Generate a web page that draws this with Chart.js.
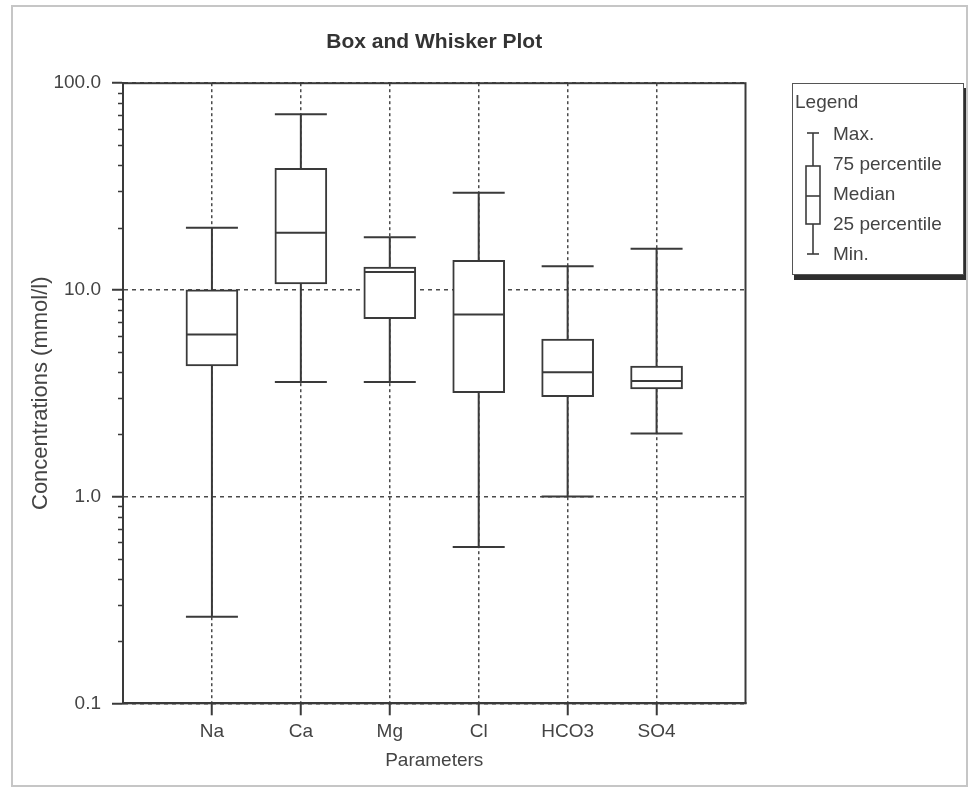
<!DOCTYPE html>
<html>
<head>
<meta charset="utf-8">
<title>Box and Whisker Plot</title>
<script src="https://cdn.jsdelivr.net/npm/chart.js@4"></script>
<style>
  html, body { margin: 0; padding: 0; background: #fff; }
  #wrap { position: relative; width: 971px; height: 788px; overflow: hidden;
          font-family: "Liberation Sans", Arial, sans-serif; }
  #frame { position: absolute; left: 11px; top: 5px; width: 957px; height: 782px;
           box-sizing: border-box; border: 2px solid #c6c6c6; }
  #c { position: absolute; left: 0; top: 0; }
  #legend { position: absolute; left: 792px; top: 83px; width: 172px; height: 192px;
            box-sizing: border-box; border: 1.5px solid #555; background: #fff;
            box-shadow: 2px 5px 0 #2e2e2e; color: #444; font-size: 19px; }
  #legend .t { position: absolute; left: 2px; line-height: 22px; white-space: nowrap; }
  #legend svg { position: absolute; left: 0; top: 0; }
</style>
</head>
<body>
<div id="wrap">
  <div id="frame"></div>
  <canvas id="c" width="971" height="788"></canvas>
  <div id="legend">
    <svg width="40" height="190" viewBox="0 0 40 190">
      <g stroke="#3c3c3c" stroke-width="1.6" fill="#fff">
        <line x1="20" y1="49" x2="20" y2="82"/>
        <line x1="20" y1="140" x2="20" y2="170"/>
        <line x1="14" y1="49" x2="26" y2="49"/>
        <line x1="14" y1="170" x2="26" y2="170"/>
        <rect x="13" y="82" width="14" height="58"/>
        <line x1="13" y1="112" x2="27" y2="112"/>
      </g>
    </svg>
    <div class="t" style="top:7px;">Legend</div>
    <div class="t" style="left:40px;top:39px;">Max.</div>
    <div class="t" style="left:40px;top:69px;">75 percentile</div>
    <div class="t" style="left:40px;top:99px;">Median</div>
    <div class="t" style="left:40px;top:129px;">25 percentile</div>
    <div class="t" style="left:40px;top:159px;">Min.</div>
  </div>
</div>
<script>
// Parameters and their five-number summaries (mmol/l)
const categories   = ['Na', 'Ca', 'Mg', 'Cl', 'HCO3', 'SO4'];
const minValues    = [0.262, 3.58, 3.58, 0.57, 1.0, 2.02];
const q1Values     = [4.29, 10.7, 7.25, 3.18, 3.04, 3.32];
const medianValues = [6.09, 18.9, 12.2, 7.61, 4.0, 3.62];
const q3Values     = [10.0, 38.7, 12.9, 13.9, 5.78, 4.28];
const maxValues    = [20.0, 70.8, 18.0, 29.5, 13.0, 15.8];

// Axis ticks
const yTickValues = [0.1, 1, 10, 100];
const minorTickFactors = [2, 3, 4, 5, 6, 7, 8, 9];

const FONT = '"Liberation Sans", Arial, sans-serif';
const INK = '#3a3a3a';
const TEXT = '#444444';
const GRID = '#4a4a4a';

Chart.defaults.font.family = FONT;

// Whiskers, caps, medians, minor log ticks and the plot frame
const boxWhiskers = {
  id: 'boxWhiskers',
  afterDatasetsDraw(chart) {
    const { ctx, scales: { x, y } } = chart;
    const meta = chart.getDatasetMeta(0);
    ctx.save();
    ctx.strokeStyle = INK;
    ctx.lineWidth = 2;
    categories.forEach((name, i) => {
      const bar = meta.data[i];
      const cx = x.getPixelForValue(i);
      const half = bar.width / 2;
      const yMin = y.getPixelForValue(minValues[i]);
      const yQ1 = y.getPixelForValue(q1Values[i]);
      const yMed = y.getPixelForValue(medianValues[i]);
      const yQ3 = y.getPixelForValue(q3Values[i]);
      const yMax = y.getPixelForValue(maxValues[i]);
      ctx.beginPath();
      ctx.moveTo(cx, yQ3); ctx.lineTo(cx, yMax);
      ctx.moveTo(cx, yQ1); ctx.lineTo(cx, yMin);
      ctx.moveTo(cx - half, yMax); ctx.lineTo(cx + half, yMax);
      ctx.moveTo(cx - half, yMin); ctx.lineTo(cx + half, yMin);
      ctx.moveTo(cx - half + 1, yMed); ctx.lineTo(cx + half - 1, yMed);
      ctx.stroke();
    });
    ctx.restore();
  },
  afterDraw(chart) {
    const { ctx, chartArea: a, scales: { y } } = chart;
    ctx.save();
    ctx.strokeStyle = INK;
    ctx.lineWidth = 1.5;
    ctx.beginPath();
    for (let d = 0; d < yTickValues.length - 1; d++) {
      minorTickFactors.forEach(f => {
        const py = Math.round(y.getPixelForValue(yTickValues[d] * f)) + 0.5;
        ctx.moveTo(a.left - 5, py);
        ctx.lineTo(a.left, py);
      });
    }
    ctx.stroke();
    ctx.lineWidth = 2;
    ctx.strokeRect(a.left, a.top, a.right - a.left, a.bottom - a.top);
    ctx.restore();
  }
};

new Chart(document.getElementById('c'), {
  type: 'bar',
  data: {
    datasets: [{
      data: categories.map((name, i) => ({ x: i, y: [q1Values[i], q3Values[i]] })),
      backgroundColor: '#ffffff',
      borderColor: INK,
      borderWidth: 2,
      borderSkipped: false,
      barThickness: 52
    }]
  },
  options: {
    responsive: false,
    animation: false,
    devicePixelRatio: 1,
    layout: { padding: { left: 0, top: 0, right: 225.5, bottom: 9.7 } },
    plugins: {
      legend: { display: false },
      tooltip: { enabled: false },
      title: {
        display: true,
        text: 'Box and Whisker Plot',
        fullSize: false,
        color: '#333',
        font: { family: FONT, size: 21, weight: 'bold' },
        padding: { top: 30, bottom: 28 }
      }
    },
    scales: {
      x: {
        type: 'linear',
        min: -1,
        max: 6,
        offset: false,
        afterBuildTicks: s => { s.ticks = categories.map((name, i) => ({ value: i })); },
        afterFit: s => { s.height = 75; },
        ticks: {
          callback: v => categories[v],
          color: TEXT,
          font: { family: FONT, size: 19 },
          padding: 5,
          maxRotation: 0,
          autoSkip: false
        },
        grid: { offset: false, color: GRID, lineWidth: 1.5, tickLength: 12, tickColor: INK, tickWidth: 2 },
        border: { display: true, color: INK, width: 2, dash: [3, 3] },
        title: {
          display: true,
          text: 'Parameters',
          color: TEXT,
          font: { family: FONT, size: 19 },
          padding: { top: 0, bottom: 6 }
        }
      },
      y: {
        type: 'logarithmic',
        min: 0.1,
        max: 100,
        afterBuildTicks: s => { s.ticks = yTickValues.map(v => ({ value: v, major: true })); },
        afterFit: s => { s.width = 123; },
        ticks: {
          callback: v => Number(v).toFixed(1),
          color: TEXT,
          font: { family: FONT, size: 19 },
          padding: 11,
          autoSkip: false
        },
        grid: { color: GRID, lineWidth: 1.5, tickLength: 11, tickColor: INK, tickWidth: 2 },
        border: { display: true, color: INK, width: 2, dash: [4, 4] },
        title: {
          display: true,
          text: 'Concentrations (mmol/l)',
          color: TEXT,
          font: { family: FONT, size: 22 },
          padding: { top: 28 }
        }
      }
    }
  },
  plugins: [boxWhiskers]
});
</script>
</body>
</html>
